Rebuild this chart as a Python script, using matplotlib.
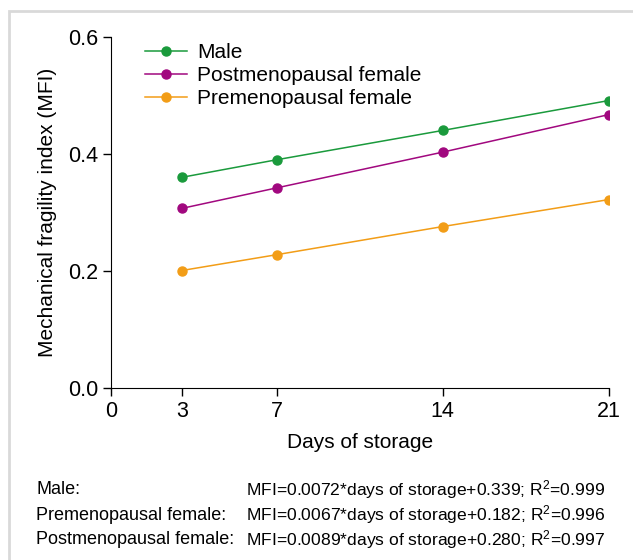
import numpy as np
import matplotlib.pyplot as plt
from matplotlib.patches import Rectangle

plt.rcParams['font.family'] = ['Liberation Sans', 'DejaVu Sans']
plt.rcParams['mathtext.fontset'] = 'custom'
plt.rcParams['mathtext.rm'] = 'Liberation Sans'
plt.rcParams['mathtext.it'] = 'Liberation Sans'

# data
days = [3, 7, 14, 21]
male = [0.360, 0.390, 0.440, 0.491]
postmeno = [0.307, 0.342, 0.403, 0.467]
premeno = [0.201, 0.228, 0.276, 0.322]

series_names = ['Male', 'Postmenopausal female', 'Premenopausal female']
colors = ['#1a9a3c', '#a1087f', '#f29d17']

eq_labels = ['Male:', 'Premenopausal female:', 'Postmenopausal female:']
eq_texts = ['MFI=0.0072*days of storage+0.339; R$^2$=0.999',
            'MFI=0.0067*days of storage+0.182; R$^2$=0.996',
            'MFI=0.0089*days of storage+0.280; R$^2$=0.997']

fig = plt.figure(figsize=(6.33, 5.6), dpi=100)
ax = fig.add_axes([0.1749, 0.3066, 0.7867, 0.6279])

for vals, name, c in zip([male, postmeno, premeno], series_names, colors):
    ax.plot(days, vals, color=c, lw=1.1, marker='o', ms=6.5, label=name)

ax.set_xlim(0, 21)
ax.set_ylim(0, 0.6)
ax.set_xticks([0, 3, 7, 14, 21])
ax.set_yticks([0.0, 0.2, 0.4, 0.6])
ax.set_yticklabels(['0.0', '0.2', '0.4', '0.6'])
ax.spines['top'].set_visible(False)
ax.spines['right'].set_visible(False)
ax.tick_params(labelsize=15.5, length=6, width=1, pad=3)
ax.set_xlabel('Days of storage', fontsize=15, labelpad=8)
ax.set_ylabel('Mechanical fragility index (MFI)', fontsize=15, labelpad=8)

ax.legend(loc='upper left', bbox_to_anchor=(0.032, 1.035), frameon=False,
          fontsize=15, handlelength=2.0, handletextpad=0.5, labelspacing=0.2)

# equations under the chart
ys = [490, 515, 540]
for lab, eq, y in zip(eq_labels, eq_texts, ys):
    fig.text(36 / 633, 1 - y / 560, lab, fontsize=13, va='center', ha='left')
    fig.text(246 / 633, 1 - y / 560, eq, fontsize=12.6, va='center', ha='left')

# light frame around the figure
fig.patches.append(Rectangle((9 / 633, -0.1), 1.2, 1 - 11 / 560 + 0.1,
                             transform=fig.transFigure, fill=False,
                             edgecolor='#d9d9d9', lw=2))

fig.savefig('out.png', dpi=100)
